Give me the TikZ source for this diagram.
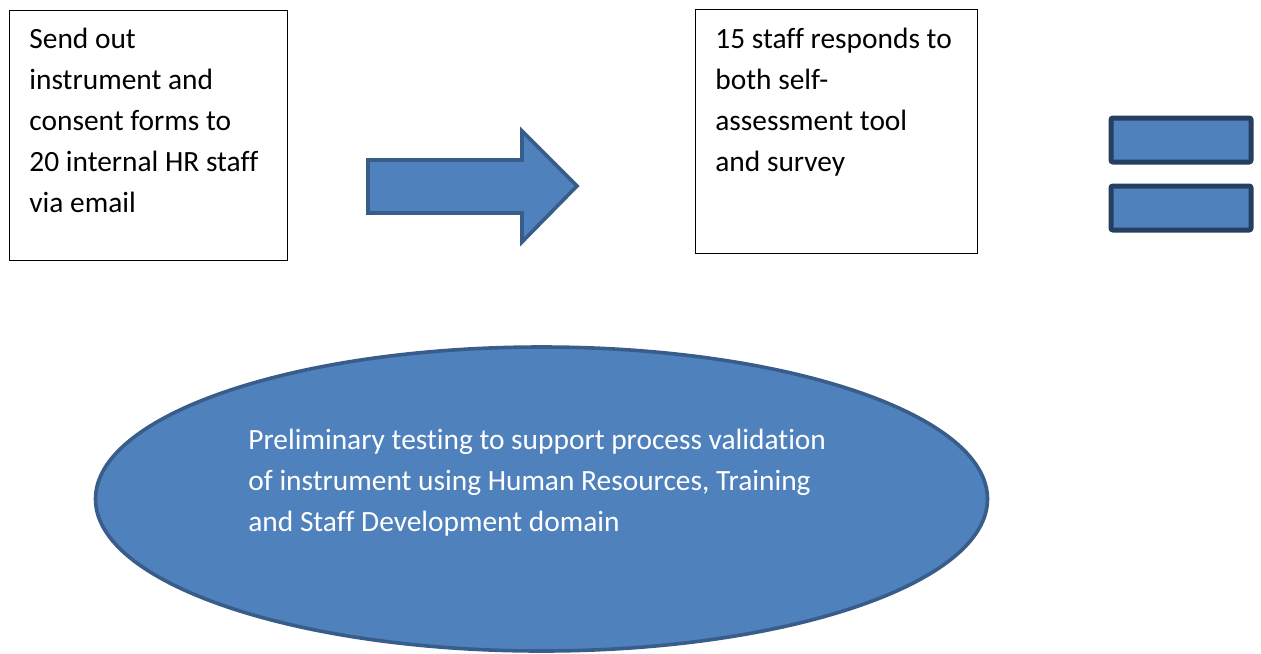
\documentclass[tikz,border=0pt]{standalone}
\usepackage{fontspec}
\setmainfont[Ligatures=NoCommon]{Carlito}
\usepackage{tikz}
\usetikzlibrary{calc,shapes.geometric}

\definecolor{formblau}{HTML}{4F81BD}
\definecolor{formrand}{HTML}{385D8A}
\definecolor{formdunkel}{HTML}{243F60}

\tikzset{
  kasten/.style={draw=black, line width=0.6pt, inner sep=0pt, anchor=north west},
  kastentext/.style={align=left, inner sep=0pt, anchor=base west,
    font=\fontsize{14.7}{20.5}\selectfont},
  blauform/.style={fill=formblau, draw=formrand, line width=1.8pt},
  gleich/.style={fill=formblau, draw=formdunkel, line width=2.5pt, rounded corners=1pt,
    minimum width=70pt, minimum height=22pt, inner sep=0pt}
}

\begin{document}
\begin{tikzpicture}[x=0.5pt, y=-0.5pt]
    % Rahmen des Bildes
    \useasboundingbox (0,0) rectangle (1261,653);

    % Erster Kasten: Versand (Grundlinie der letzten Zeile)
    \node[kasten, minimum width=139pt, minimum height=125pt] (versand) at (9,10) {};
    \node[kastentext] (versandtext) at (29,212)
      {Send out\\instrument and\\consent forms to\\20 internal HR staff\\via email};

    % Pfeil zwischen den Kaesten
    \coordinate (P1) at (368,160);
    \coordinate (P2) at (522,160);
    \coordinate (P3) at (522,131);
    \coordinate (P4) at (577,186);
    \coordinate (P5) at (522,242);
    \coordinate (P6) at (522,213);
    \coordinate (P7) at (368,213);
    \draw[blauform, line join=miter] (P1) -- (P2) -- (P3) -- (P4) -- (P5) -- (P6) -- (P7) -- cycle;

    % Zweiter Kasten: Rueckmeldung
    \node[kasten, minimum width=141pt, minimum height=122pt] (antwort) at (695,9) {};
    \node[kastentext] (antworttext) at (715,171)
      {15 staff responds to\\both self-\\assessment tool\\and survey};

    % Gleichheitszeichen
    \node[gleich] (gleichoben) at (1181,140) {};
    \node[gleich] (gleichunten) at (1181,208) {};

    % Ellipse mit Beschreibung
    \node[ellipse, blauform, minimum width=446pt, minimum height=152pt, inner sep=0pt]
      (vortest) at (541.5,499) {};
    \node[kastentext, text=white] (vortesttext) at (248,531)
      {Preliminary testing to support process validation\\of instrument using Human Resources, Training\\and Staff Development domain};
\end{tikzpicture}
\end{document}
